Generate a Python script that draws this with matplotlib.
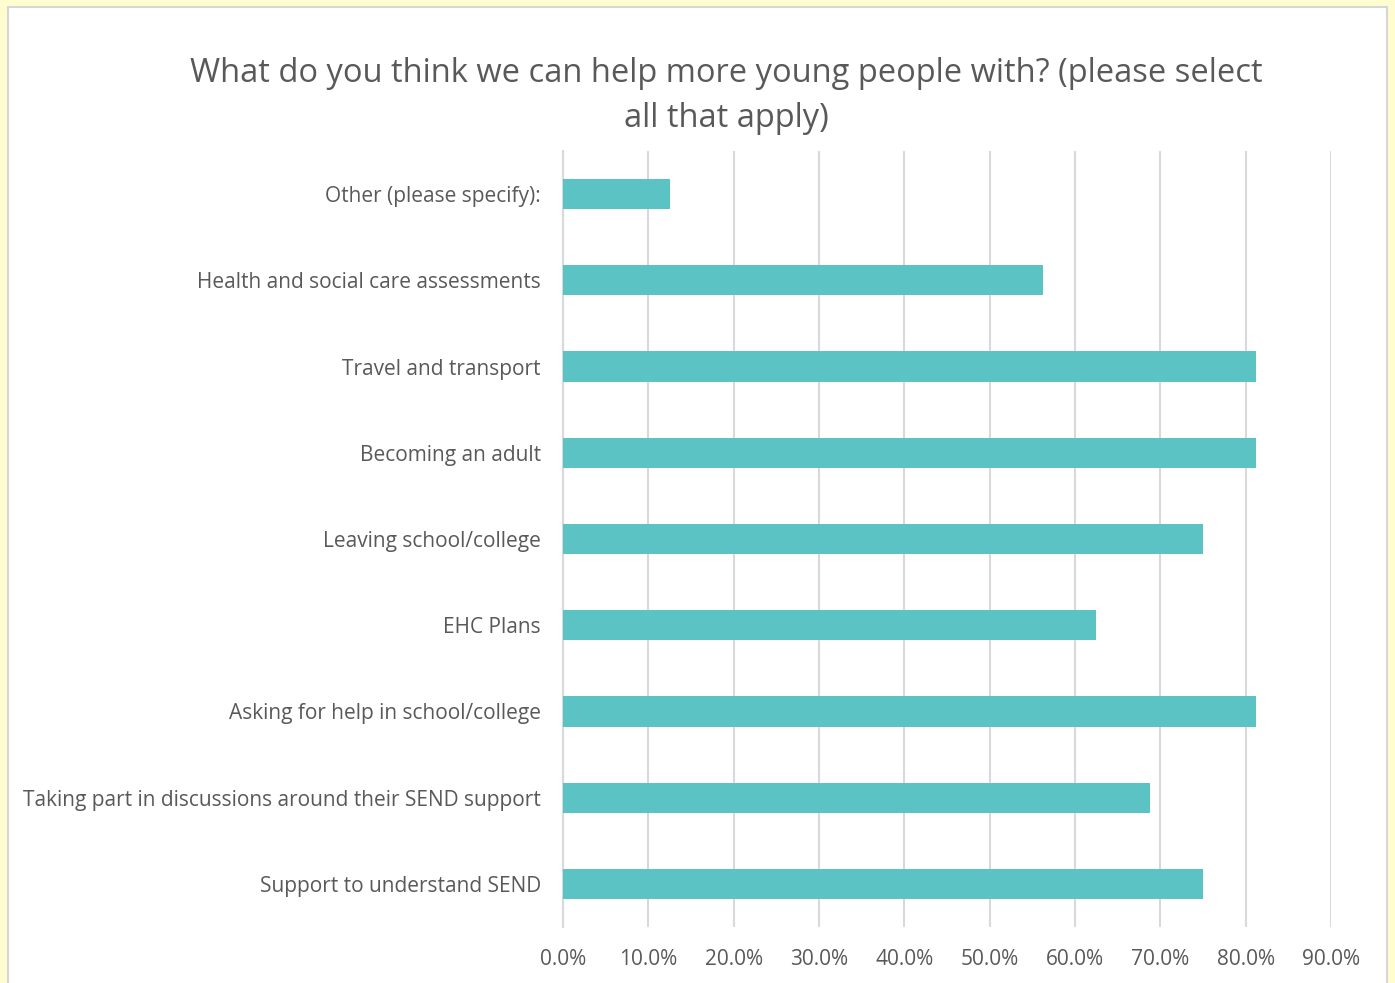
import matplotlib.pyplot as plt
from matplotlib.patches import Rectangle
from matplotlib.ticker import PercentFormatter

plt.rcParams["font.family"] = ["Open Sans", "DejaVu Sans"]

categories = [
    "Support to understand SEND",
    "Taking part in discussions around their SEND support",
    "Asking for help in school/college",
    "EHC Plans",
    "Leaving school/college",
    "Becoming an adult",
    "Travel and transport",
    "Health and social care assessments",
    "Other (please specify):",
]
values = [75.0, 68.75, 81.25, 62.5, 75.0, 81.25, 81.25, 56.25, 12.5]
ticks = [0, 10, 20, 30, 40, 50, 60, 70, 80, 90]

text_color = "#595959"
grid_color = "#D9D9D9"
bar_color = "#5BC3C3"

fig = plt.figure(figsize=(13.95, 9.83), dpi=100)
fig.patch.set_facecolor("#FFFDD0")

# white chart panel on the cream page
panel = Rectangle(
    (8 / 1395, -0.01),
    (1387 - 8) / 1395,
    1 - 7 / 983 + 0.01,
    transform=fig.transFigure,
    facecolor="white",
    edgecolor="#D6D6D6",
    linewidth=1.5,
    zorder=-10,
)
fig.patches.append(panel)

ax = fig.add_axes([563 / 1395, 1 - 927 / 983, (1331 - 563) / 1395, (927 - 151) / 983])
ax.set_facecolor("none")

ax.barh(categories, values, height=0.35, color=bar_color, zorder=3)

ax.set_xlim(0, 90)
ax.set_ylim(-0.5, len(categories) - 0.5)
ax.set_xticks(ticks)
ax.xaxis.set_major_formatter(PercentFormatter(decimals=1))

ax.grid(True, axis="x", color=grid_color, linewidth=1.5, zorder=0)
ax.grid(False, axis="y")
for side in ["top", "right", "bottom"]:
    ax.spines[side].set_visible(False)
ax.spines["left"].set_color(grid_color)
ax.spines["left"].set_linewidth(1.5)

ax.tick_params(axis="both", length=0, colors=text_color)
ax.tick_params(axis="x", pad=16, labelsize=15)
ax.tick_params(axis="y", pad=16, labelsize=15)

fig.text(
    726 / 1395,
    1 - 96 / 983,
    "What do you think we can help more young people with? (please select\nall that apply)",
    ha="center",
    va="center",
    fontsize=23.5,
    color=text_color,
    linespacing=1.5,
)

plt.savefig("out.png", dpi=100)
